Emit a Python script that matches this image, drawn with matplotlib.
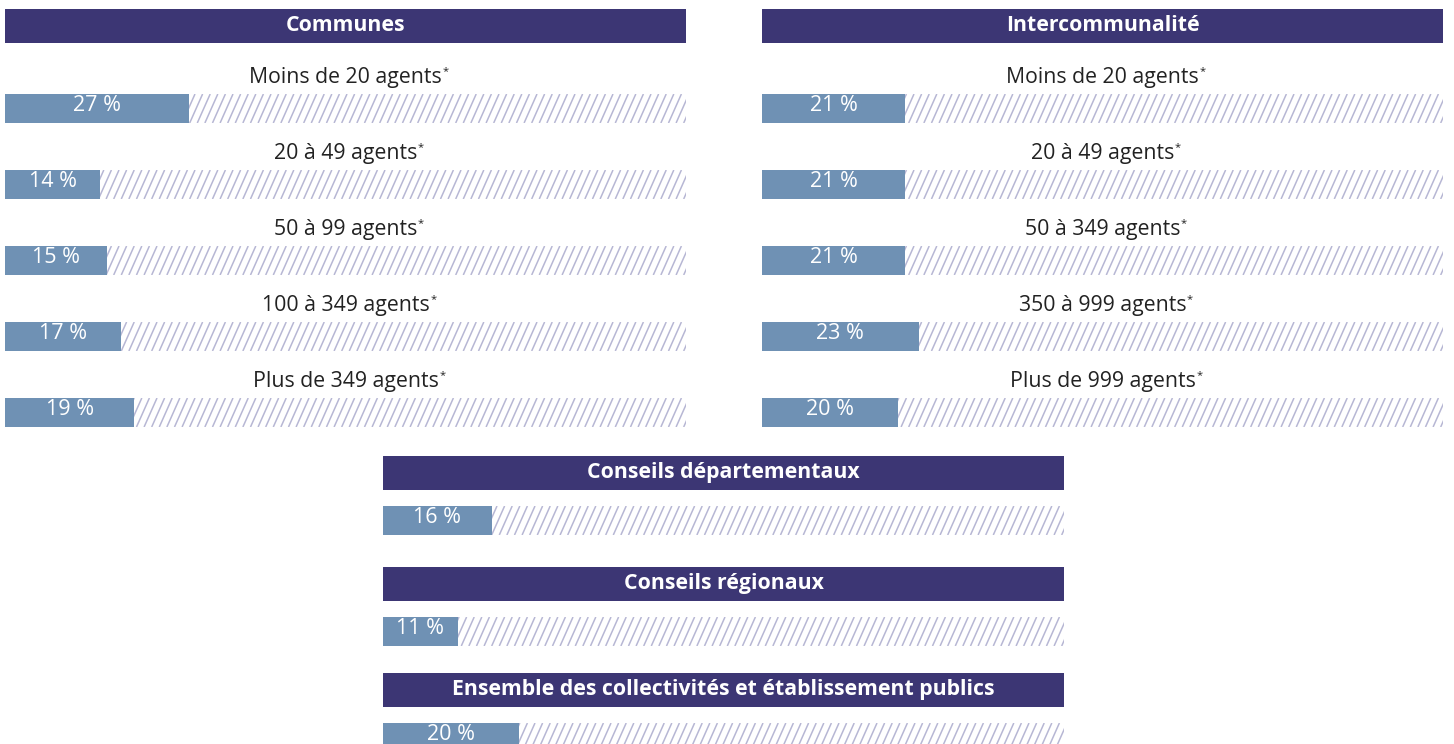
import matplotlib.pyplot as plt
import numpy as np
from matplotlib.collections import LineCollection

# Données
communes_labels = ['Moins de 20 agents', '20 à 49 agents', '50 à 99 agents',
                   '100 à 349 agents', 'Plus de 349 agents']
communes_values = [27, 14, 15, 17, 19]

interco_labels = ['Moins de 20 agents', '20 à 49 agents', '50 à 349 agents',
                  '350 à 999 agents', 'Plus de 999 agents']
interco_values = [21, 21, 21, 23, 20]

autres_titres = ['Conseils départementaux', 'Conseils régionaux',
                 'Ensemble des collectivités et établissement publics']
autres_values = [16, 11, 20]

# Couleurs
HEADER = '#3c3674'
BAR = '#6f91b4'
HATCH = '#b7b7d4'
TEXT = '#222222'

W, H = 1454, 744
plt.rcParams['font.family'] = ['Open Sans', 'Noto Sans', 'DejaVu Sans']

fig = plt.figure(figsize=(W / 100, H / 100), dpi=100)


def px_axes(x0, y0, w, h):
    ax = fig.add_axes([x0 / W, 1 - (y0 + h) / H, w / W, h / H])
    ax.set_axis_off()
    return ax


def header(x0, y0, w, titre):
    ax = px_axes(x0, y0, w, 34)
    ax.set_xlim(0, 1)
    ax.set_ylim(0, 1)
    ax.add_patch(plt.Rectangle((0, 0), 1, 1, color=HEADER, transform=ax.transAxes))
    ax.text(0.5, 0.52, titre, color='white', fontsize=15.3, fontweight='bold',
            ha='center', va='center')


def bar_row(x0, y0, w, valeur, h=29):
    ax = px_axes(x0, y0, w, h)
    ax.set_xlim(0, 100)
    ax.set_ylim(0, 1)
    # hachures (fond = 100 %)
    step = 100 * 7.6 / w
    dx = 100 * (h / np.tan(np.radians(66))) / w
    xs = np.arange(-dx, 100 + step, step)
    segs = [[(x, 0), (x + dx, 1)] for x in xs]
    lc = LineCollection(segs, colors=HATCH, linewidths=1.1)
    ax.add_collection(lc)
    ax.barh(0.5, valeur, height=1, color=BAR, zorder=3)
    ax.text(valeur / 2, 0.62, f'{valeur} %', color='white', fontsize=15.5,
            ha='center', va='center', zorder=4)


def etiquette(xc, yc, texte):
    t = fig.text(xc / W, 1 - yc / H, texte, color=TEXT, fontsize=15.3,
                 ha='center', va='center')
    fig.add_artist(plt.Annotation('*', xy=(1, 1), xycoords=t,
                                  xytext=(0.5, 0), textcoords='offset points',
                                  fontsize=8, color=TEXT,
                                  ha='left', va='top'))
    return t


# Communes
header(5, 9, 681, 'Communes')
for i, (lab, val) in enumerate(zip(communes_labels, communes_values)):
    etiquette(5 + 681 / 2, 77 + 76 * i, lab)
    bar_row(5, 94 + 76 * i, 681, val)

# Intercommunalité
header(762, 9, 681, 'Intercommunalité')
for i, (lab, val) in enumerate(zip(interco_labels, interco_values)):
    etiquette(762 + 681 / 2, 77 + 76 * i, lab)
    bar_row(762, 94 + 76 * i, 681, val)

# Autres
tops = [456, 567, 673]
for titre, val, y in zip(autres_titres, autres_values, tops):
    header(383, y, 681, titre)
    bar_row(383, y + 50, 681, val)

fig.savefig('out.png', dpi=100)
